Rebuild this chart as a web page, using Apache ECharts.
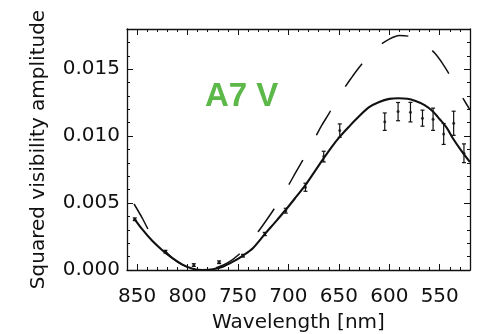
<!DOCTYPE html>
<html>
<head>
<meta charset="utf-8">
<script src="https://cdn.jsdelivr.net/npm/echarts@6/dist/echarts.min.js"></script>
<style>
  html, body { margin: 0; padding: 0; background: #fff; }
  #chart { width: 483px; height: 334px; }
</style>
</head>
<body>
<div id="chart"></div>
<script>
// wavelength ticks (nm)
const xMajor = [850, 800, 750, 700, 650, 600, 550];
const xMinor = [530, 540, 560, 570, 580, 590, 610, 620, 630, 640, 660, 670, 680, 690,
                710, 720, 730, 740, 760, 770, 780, 790, 810, 820, 830, 840];
const yMajor = [0, 0.005, 0.010, 0.015];
const yMinor = [0.001, 0.002, 0.003, 0.004, 0.006, 0.007, 0.008, 0.009,
                0.011, 0.012, 0.013, 0.014, 0.016, 0.017];

// measured points
const ptLambda = [852.3, 821.9, 793.8, 768.7, 745.0, 723.4, 702.6, 683.1, 665.0,
                  649.1, 604.5, 591.3, 579.0, 567.1, 556.6, 546.1, 536.2, 526.0];
const ptV2 = [0.00379, 0.00137, 0.00037, 0.00058, 0.00107, 0.00269, 0.00443, 0.00618, 0.00847,
              0.01041, 0.01108, 0.01183, 0.01179, 0.01134, 0.01126, 0.01016, 0.01096, 0.00872];
const ptErr = [0.0001, 0.0001, 0.0001, 0.0001, 0.0001, 0.00012, 0.00018, 0.0003, 0.0004,
               0.0005, 0.00065, 0.00068, 0.00073, 0.0006, 0.00083, 0.00078, 0.0009, 0.0007];

// model curves [wavelength, V^2]
const solidCurve = [
  [853, 0.00386], [845, 0.00305], [835, 0.00218], [825, 0.00148], [815, 0.00088],
  [805, 0.00040], [795, 0.00010], [785, 0.0], [775, 0.00005], [765, 0.00025],
  [755, 0.00062], [745, 0.00108], [735, 0.00165], [723, 0.00272], [713, 0.00358],
  [703, 0.00446], [693, 0.0054], [683, 0.00636], [674, 0.00735], [665, 0.00835],
  [657, 0.0092], [649, 0.00996], [640, 0.0107], [630, 0.01148], [620, 0.01216],
  [610, 0.01255], [600, 0.01278], [591, 0.01283], [582, 0.01279], [574, 0.01262],
  [565, 0.01232], [557, 0.01186], [550, 0.01126], [543, 0.01062], [537, 0.00984],
  [529, 0.00895], [520, 0.00805]
];
const dashedCurve = [
  [853, 0.00493], [845, 0.0039], [839, 0.00304], [830, 0.0021], [820, 0.00125],
  [810, 0.0006], [800, 0.0002], [792, 0.00003], [785, 0], [778, 0.00004],
  [770, 0.0002], [760, 0.00055], [750, 0.0011], [740, 0.0019], [730, 0.00286],
  [722, 0.0037], [714, 0.00458], [707, 0.00545], [700, 0.00632], [693, 0.00725],
  [686, 0.00817], [680, 0.009], [674, 0.00982], [667, 0.0108], [660, 0.01166],
  [653, 0.0126], [646, 0.01343], [638, 0.0143], [630, 0.01512], [620, 0.0160],
  [611, 0.01669], [600, 0.01725], [590, 0.01752], [580, 0.01745], [572, 0.0172],
  [564, 0.01682], [555, 0.0162], [547, 0.0154], [540, 0.01455], [533, 0.01358],
  [526, 0.0127], [520, 0.01196]
];

const ink = '#111';
const font = 'DejaVu Sans';

const points = ptLambda.map((l, i) => [l, ptV2[i]]);
const errBars = ptLambda.map((l, i) => [l, ptV2[i] - ptErr[i], ptV2[i] + ptErr[i]]);

function xAx(pos, ticks, len, withLine, withLabel) {
  return {
    type: 'value', min: 520, max: 860, inverse: true, position: pos,
    axisLine: { show: withLine, onZero: false, lineStyle: { color: ink, width: 1.3 } },
    axisTick: { inside: true, length: len, customValues: ticks, lineStyle: { color: ink, width: 1 } },
    axisLabel: withLabel ? { customValues: xMajor, margin: 17, color: ink, fontFamily: font, fontSize: 20 } : { show: false },
    splitLine: { show: false }
  };
}
function yAx(pos, ticks, len, withLine, withLabel) {
  return {
    type: 'value', min: 0, max: 0.018, position: pos,
    axisLine: { show: withLine, onZero: false, lineStyle: { color: ink, width: 1.3 } },
    axisTick: { inside: true, length: len, customValues: ticks, lineStyle: { color: ink, width: 1 } },
    axisLabel: withLabel ? { customValues: yMajor, margin: 7, color: ink, fontFamily: font, fontSize: 20,
                             formatter: v => v.toFixed(3) } : { show: false },
    splitLine: { show: false }
  };
}

const chart = echarts.init(document.getElementById('chart'));
const xs = [xAx('bottom', xMajor, 6, true, true), xAx('bottom', xMinor, 3, false, false),
            xAx('top', xMajor, 6, true, false), xAx('top', xMinor, 3, false, false)];
xs[0].name = 'Wavelength [nm]';
xs[0].nameLocation = 'middle';
xs[0].nameGap = 43;
xs[0].nameTextStyle = { color: ink, fontFamily: font, fontSize: 20 };
const ys = [yAx('left', yMajor, 6, true, true), yAx('left', yMinor, 3, false, false),
            yAx('right', yMajor, 6, true, false), yAx('right', yMinor, 3, false, false)];
ys[0].name = 'Squared visibility amplitude';
ys[0].nameLocation = 'middle';
ys[0].nameGap = 78;
ys[0].nameTextStyle = { color: ink, fontFamily: font, fontSize: 20 };

chart.setOption({
  animation: false,
  grid: { left: 127, right: 13, top: 29, bottom: 64, outerBoundsMode: 'none' },
  xAxis: xs,
  yAxis: ys,
  graphic: [{
    type: 'text', left: 205, top: 80,
    style: { text: 'A7 V', fill: '#5cb848', font: 'bold 33px "Liberation Sans"' }
  }],
  series: [
    {
      type: 'line', data: dashedCurve, smooth: 0.3, showSymbol: false,
      lineStyle: { color: ink, width: 1.5, type: [28.3, 28.3] }
    },
    {
      type: 'line', data: solidCurve, smooth: 0.3, showSymbol: false,
      lineStyle: { color: ink, width: 2.1 }
    },
    {
      type: 'custom', data: errBars, encode: { x: 0, y: [1, 2] },
      renderItem: function (params, api) {
        const x = api.value(0);
        const lo = api.coord([x, api.value(1)]);
        const hi = api.coord([x, api.value(2)]);
        const w = 2;
        const st = { stroke: ink, lineWidth: 1.2 };
        return {
          type: 'group', children: [
            { type: 'line', shape: { x1: lo[0], y1: lo[1], x2: hi[0], y2: hi[1] }, style: st },
            { type: 'line', shape: { x1: lo[0] - w, y1: lo[1], x2: lo[0] + w, y2: lo[1] }, style: st },
            { type: 'line', shape: { x1: hi[0] - w, y1: hi[1], x2: hi[0] + w, y2: hi[1] }, style: st }
          ]
        };
      }
    },
    {
      type: 'scatter', data: points, symbolSize: 3,
      itemStyle: { color: ink }
    }
  ]
});
</script>
</body>
</html>
